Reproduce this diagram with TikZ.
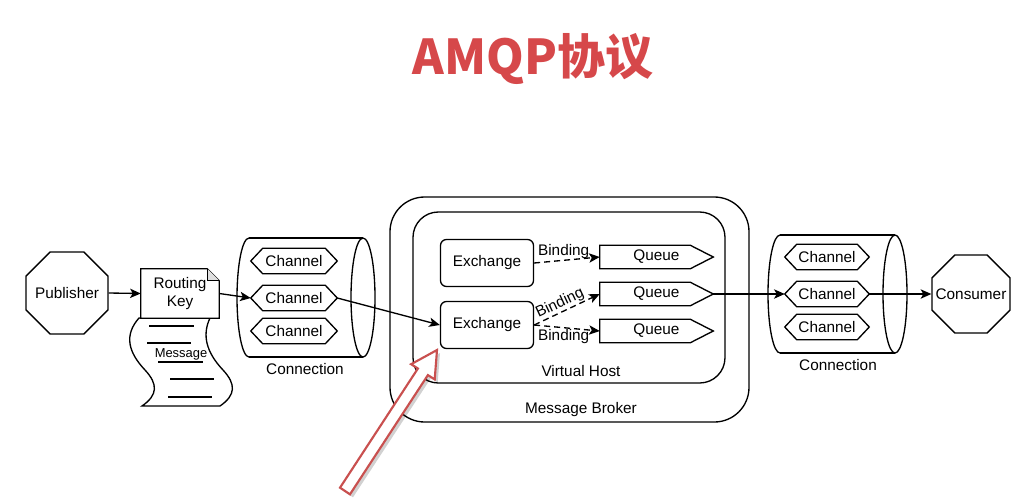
\documentclass[tikz,border=0pt]{standalone}
\usepackage{fontspec}
\setmainfont{Liberation Sans}
\newfontfamily\cjkfont{Noto Sans CJK SC}
\usetikzlibrary{shapes.geometric,calc,arrows.meta}
\definecolor{titlered}{HTML}{D6484A}
\definecolor{arrowred}{HTML}{C9504F}
\begin{document}
\begin{tikzpicture}[x=0.75pt,y=-0.75pt,
  every node/.style={font=\fontsize{11.5}{14}\selectfont},
  ln/.style={line width=1pt},
  oct/.style={regular polygon, regular polygon sides=8, draw, line width=1pt, inner sep=0pt},
  hold/.style={inner sep=0pt, align=center},
  exbox/.style={draw, line width=1pt, rounded corners=4.5pt, minimum width=69.75pt, minimum height=35.25pt, inner sep=0pt},
  conn/.style={line width=1pt, -{Stealth[length=8pt,width=7pt,inset=2pt]}},
  bind/.style={line width=1pt, dash pattern=on 4.5pt off 3pt, -{Stealth[length=8pt,width=7pt,inset=2pt]}},
  chan/.style={hold, minimum width=64.5pt, minimum height=18.75pt},
  quebox/.style={hold, minimum width=84.75pt, minimum height=17.25pt},
  lbl/.style={inner sep=1pt}
]
\useasboundingbox (0,0) rectangle (1016,500);

% title
\node[font=\cjkfont\bfseries\fontsize{36}{40}\selectfont, text=titlered] (title) at (533,59) {AMQP协议};

% publisher
\node[oct, minimum size=66.5pt] (pub) at (67,293) {};
\node at (pub) {Publisher};

% routing key + message
\draw[ln, fill=white] (139,318) .. controls (124,335) and (128,352) .. (145,370)
  .. controls (158,384) and (158,395) .. (142,406) -- (220,406)
  .. controls (236,395) and (236,384) .. (223,370)
  .. controls (206,352) and (202,335) .. (210,318) -- cycle;
\foreach \xa/\xb/\yy in {149/194/326, 147/191/343, 158/203/362, 170/214/379, 168/212/397}
  \draw[ln] (\xa,\yy) -- (\xb,\yy);
\node[lbl, fill=white, inner sep=0.5pt, font=\fontsize{9.7}{11}\selectfont] (msg) at (181,354) {Message};
\node[hold, minimum width=58.5pt, minimum height=36.75pt] (rk) at (180,293.5) {Routing\\Key};
\draw[ln, fill=white] (rk.north west) -- ($(rk.north east)+(-12,0)$) -- ($(rk.north east)+(0,12)$) -- (rk.south east) -- (rk.south west) -- cycle;
\draw[ln, fill=gray!25] ($(rk.north east)+(-12,0)$) -- ($(rk.north east)+(-12,12)$) -- ($(rk.north east)+(0,12)$);
\node[hold] at (rk) {Routing\\Key};

% left connection cylinder
\draw[ln] (249,238) -- (363,238);
\draw[ln] (249,357) -- (363,357);
\draw[ln] (249,238) .. controls (242.4,238) and (237,264.6) .. (237,297.5)
  .. controls (237,330.4) and (242.4,357) .. (249,357);
\draw[ln] (363,297.5) ellipse [x radius=12, y radius=59.5];
\node[chan] (c1) at (294,261) {Channel};
\node[chan] (c2) at (294,298) {Channel};
\node[chan] (c3) at (294,331) {Channel};
\node (conl) at (305,369) {Connection};

% right connection cylinder
\draw[ln] (780,235) -- (895,235);
\draw[ln] (780,353) -- (895,353);
\draw[ln] (780,235) .. controls (773.4,235) and (768,261.4) .. (768,294)
  .. controls (768,326.6) and (773.4,353) .. (780,353);
\draw[ln] (895,294) ellipse [x radius=12, y radius=59];
\node[chan, minimum width=63pt] (d1) at (827,257) {Channel};
\node[chan, minimum width=63pt] (d2) at (827,294) {Channel};
\node[chan, minimum width=63pt] (d3) at (827,327) {Channel};
\node (conr) at (838,365) {Connection};

% channel hexagons
\foreach \c in {c1,c2,c3,d1,d2,d3}
  \draw[ln] (\c.west) -- ($(\c.north west)+(12,0)$) -- ($(\c.north east)+(-12,0)$) -- (\c.east)
    -- ($(\c.south east)+(-12,0)$) -- ($(\c.south west)+(12,0)$) -- cycle;

% consumer
\node[oct, minimum size=63.3pt] (cons) at (971,294) {};
\node at (cons) {Consumer};

% broker and vhost
\draw[ln, rounded corners=26pt] (390,197) rectangle (749,422);
\node (mb) at (581,410) {Message Broker};
\draw[ln, rounded corners=19pt] (413,212) rectangle (725,383);
\node (vh) at (581,371) {Virtual Host};

% exchanges
\node[exbox] (ex1) at (487,263) {Exchange};
\node[exbox] (ex2) at (487,325) {Exchange};

% queues
\node[quebox] (q1) at (656.5,257) {};
\node[quebox] (q2) at (656.5,294) {};
\node[quebox] (q3) at (656.5,331) {};
\foreach \q in {q1,q2,q3}{
  \draw[ln] (\q.north west) -- ($(\q.north east)+(-23,0)$) -- (\q.east) -- ($(\q.south east)+(-23,0)$) -- (\q.south west) -- cycle;
  \node at (\q) {Queue};
}

% connectors
\draw[conn] (pub.east) -- (rk.west);
\draw[conn] (rk.east) -- (c2.west);
\draw[conn] (c2.east) -- (ex2.west);
\draw[bind] (ex1.east) -- node[above, lbl, pos=0.45] {Binding} (q1.west);
\draw[bind] (ex2.east) -- node[above, sloped, lbl, inner sep=0.5pt, pos=0.45] {Binding} (q2.west);
\draw[bind] (ex2.east) -- node[below, lbl, pos=0.45] {Binding} (q3.west);
\draw[conn] (q2.east) -- (d2.west);
\draw[conn] (d2.east) -- (cons.west);

% red hollow arrow with shadow
\coordinate (rt) at (345,491);
\coordinate (rp) at (437,350);
\fill[black, opacity=0.18] ($(340.0,487.7)+(3,3)$) -- ($(417.9,368.5)+(3,3)$) -- ($(411.1,364.2)+(3,3)$) -- ($(rp)+(3,3)$)
  -- ($(434.7,379.4)+(3,3)$) -- ($(427.9,375.1)+(3,3)$) -- ($(350.0,494.3)+(3,3)$) -- cycle;
\draw[arrowred, line width=1.6pt, fill=white, line join=miter] (340.0,487.7) -- (417.9,368.5) -- (411.1,364.2) -- (rp)
  -- (434.7,379.4) -- (427.9,375.1) -- (350.0,494.3) -- cycle;
\end{tikzpicture}
\end{document}
